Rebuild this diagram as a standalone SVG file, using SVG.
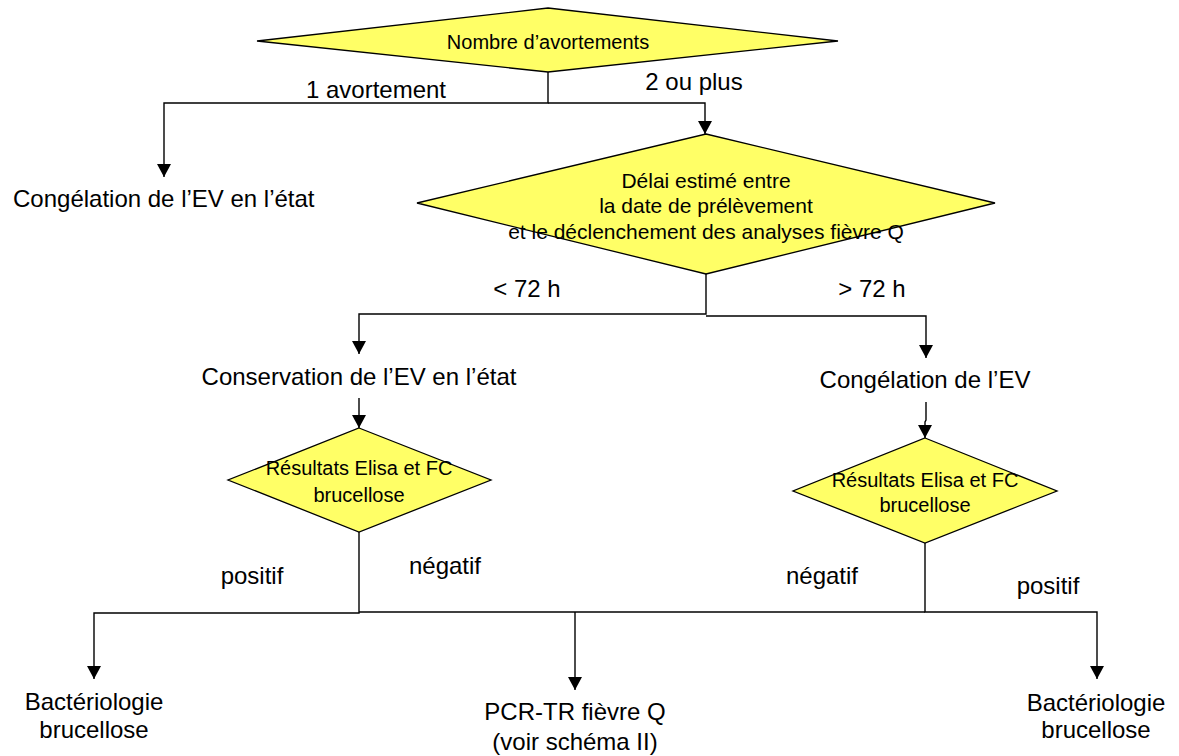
<svg xmlns="http://www.w3.org/2000/svg" width="1179" height="756" viewBox="0 0 1179 756">
<style>
.dia{fill:#FFFF66;stroke:#000;stroke-width:1.3}
.ln{fill:none;stroke:#000;stroke-width:1.4}
text{font-family:"Liberation Sans",Arial,sans-serif;fill:#000}
.t24{font-size:24px}
.t21{font-size:21px}
.t20{font-size:20px}
.mid{text-anchor:middle}
</style>
<defs>
<marker id="ah" markerUnits="userSpaceOnUse" markerWidth="14" markerHeight="14" refX="13" refY="7" orient="auto">
<path d="M0,0 L13,7 L0,14 z" fill="#000"/>
</marker>
</defs>
<rect width="1179" height="756" fill="#fff"/>
<g id="connectors">
<path class="ln" d="M548,72 V103 H164 V177" marker-end="url(#ah)"/>
<path class="ln" d="M548,103 H705 V134" marker-end="url(#ah)"/>
<path class="ln" d="M706,274 V314 H359 V354" marker-end="url(#ah)"/>
<path class="ln" d="M706,316 H926 V358" marker-end="url(#ah)"/>
<path class="ln" d="M359,398 V428" marker-end="url(#ah)"/>
<path class="ln" d="M926,402 V420 L925,422 V438" marker-end="url(#ah)"/>
<path class="ln" d="M359,532 V613 H94 V679" marker-end="url(#ah)"/>
<path class="ln" d="M359,612 H925"/>
<path class="ln" d="M575,612 V690" marker-end="url(#ah)"/>
<path class="ln" d="M925,543 V612 H1097 V679" marker-end="url(#ah)"/>
<text class="t24 mid" x="376" y="98">1 avortement</text>
<text class="t24 mid" x="694" y="90">2 ou plus</text>
<text class="t24 mid" x="527" y="297">&lt; 72 h</text>
<text class="t24 mid" x="872" y="297">&gt; 72 h</text>
<text class="t24 mid" x="252" y="584">positif</text>
<text class="t24 mid" x="445" y="574">négatif</text>
<text class="t24 mid" x="822" y="584">négatif</text>
<text class="t24 mid" x="1048" y="594">positif</text>
</g>
<g id="n-nombre">
<polygon class="dia" points="548,8 838,41 548,72 257,41"/>
<text class="t20 mid" x="548" y="49">Nombre d’avortements</text>
</g>
<g id="n-congel-etat">
<text class="t24" x="13" y="207">Congélation de l’EV en l’état</text>
</g>
<g id="n-delai">
<polygon class="dia" points="706,134 995,203 706,274 417,203"/>
<text class="t21 mid" x="706" y="188">Délai estimé entre</text>
<text class="t21 mid" x="706" y="213">la date de prélèvement</text>
<text class="t21 mid" x="706" y="239">et le déclenchement des analyses fièvre Q</text>
</g>
<g id="n-conservation">
<text class="t24 mid" x="359" y="385">Conservation de l’EV en l’état</text>
</g>
<g id="n-congel">
<text class="t24 mid" x="925" y="388">Congélation de l’EV</text>
</g>
<g id="n-resultats-1">
<polygon class="dia" points="359,428 491,480 359,532 228,480"/>
<text class="t20 mid" x="359" y="475">Résultats Elisa et FC</text>
<text class="t20 mid" x="359" y="502">brucellose</text>
</g>
<g id="n-resultats-2">
<polygon class="dia" points="925,438 1057,491 925,543 793,491"/>
<text class="t20 mid" x="925" y="487">Résultats Elisa et FC</text>
<text class="t20 mid" x="925" y="512">brucellose</text>
</g>
<g id="n-bact-1">
<text class="t24 mid" x="94" y="710">Bactériologie</text>
<text class="t24 mid" x="94" y="738">brucellose</text>
</g>
<g id="n-pcr">
<text class="t24 mid" x="575" y="720">PCR-TR fièvre Q</text>
<text class="t24 mid" x="575" y="750">(voir schéma II)</text>
</g>
<g id="n-bact-2">
<text class="t24 mid" x="1096" y="711">Bactériologie</text>
<text class="t24 mid" x="1096" y="738">brucellose</text>
</g>
</svg>
